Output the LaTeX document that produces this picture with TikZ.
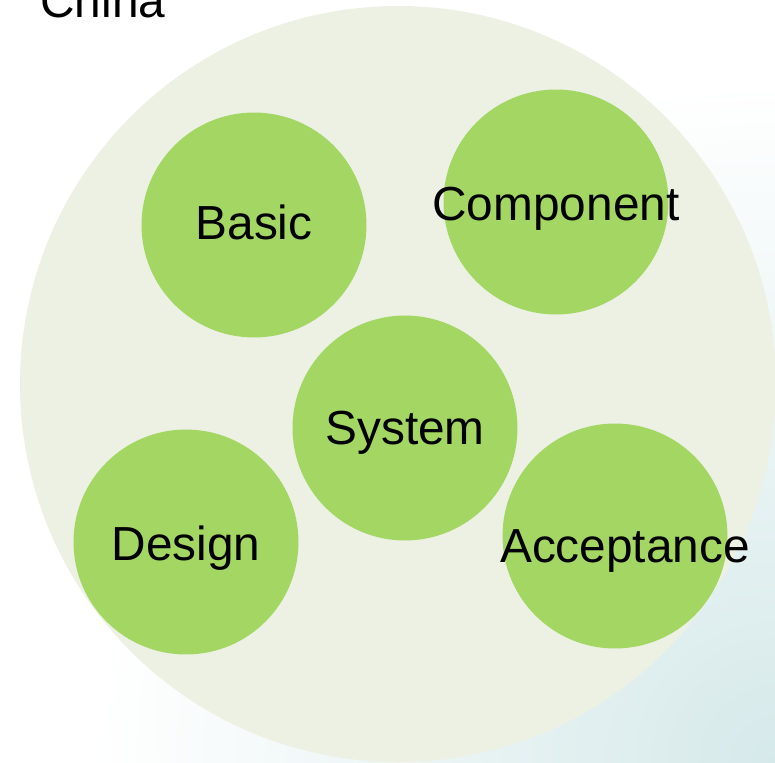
\documentclass[tikz,border=0pt]{standalone}
\usepackage{fontspec}
\setmainfont{Liberation Sans}
\usetikzlibrary{positioning}
\definecolor{leafgreen}{RGB}{163,214,99}
\definecolor{paleback}{RGB}{237,241,228}
\definecolor{mistblue}{RGB}{214,233,234}
\tikzset
{
    bubble/.style = {circle, fill=leafgreen, minimum size=4.5cm, inner sep=0pt},
    word/.style   = {font=\fontsize{27.2}{32}\selectfont, text=black, inner sep=0pt, anchor=base},
    disc/.style   = {fill=paleback}
}

\begin{document}
\begin{tikzpicture}[x=0.02cm, y=-0.02cm]
		\useasboundingbox (0,0) rectangle (775,762);
		\clip (0,0) rectangle (775,762);
		\fill[white] (0,0) rectangle (775,762);
		\shade[inner color=mistblue, outer color=white] (775,762) circle[radius=680];
		
		% title, cut off by the page edge
		\node[word, anchor=base west] (title) at (40,17) {China};
		
		\fill[disc] (398,384) circle[radius=378];
		
		\node[bubble] (basic) at (254,225) {};
		\node[bubble] (component) at (556,202) {};
		\node[bubble] (system) at (405,428) {};
		\node[bubble] (design) at (186,542) {};
		\node[bubble] (acceptance) at (615,536) {};
		
		% labels sit on their baselines, a little under each centre
		\node[word] (basic text) at ([yshift=-0.28cm]basic.center) {Basic};
		\node[word] (component text) at ([yshift=-0.36cm]component.center) {Component};
		\node[word] (system text) at ([yshift=-0.32cm]system.center) {System};
		\node[word] (design text) at ([yshift=-0.36cm]design.center) {Design};
		\node[word] (acceptance text) at ([xshift=0.2cm,yshift=-0.52cm]acceptance.center) {Acceptance};
		
		\end{tikzpicture}
\end{document}
